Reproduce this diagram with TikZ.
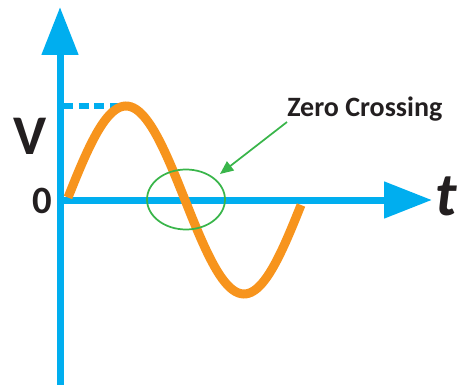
\documentclass[tikz,border=0pt]{standalone}
\usepackage{fontspec}
\setmainfont{Carlito}
\usepackage{tikz}
\usetikzlibrary{
  shapes.geometric,
  arrows.meta,
  positioning
}
\definecolor{axisblue}{RGB}{0, 174, 239}
\definecolor{waveorange}{RGB}{247, 148, 29}
\definecolor{zcgreen}{RGB}{57, 181, 74}
\definecolor{textdark}{RGB}{35, 31, 32}

\begin{document}
\begin{tikzpicture}[
  x=0.75pt, y=-0.75pt,
  axis/.style={draw=axisblue, line width=5.25pt, -{Triangle[length=36pt, width=26.5pt]}},
  peakdash/.style={draw=axisblue, line width=4.5pt, dash pattern=on 7.5pt off 4.2pt},
  wave/.style={draw=waveorange, line width=6.75pt},
  zcring/.style={ellipse, draw=zcgreen, line width=1.3pt, minimum width=58.5pt, minimum height=45pt, inner sep=0pt},
  zcarrow/.style={draw=zcgreen, line width=1.3pt, -{Triangle[length=10pt, width=8.5pt]}},
  label/.style={text=textdark, inner sep=0pt, font=\bfseries\fontsize{#1}{#1}\selectfont}
]
\useasboundingbox (0,0) rectangle (457,385);

% Axes
\coordinate (origin) at (60,200);
\coordinate (vbottom) at (60,386);
\coordinate (vtop) at (60,7);
\coordinate (tend) at (432,200);
\draw[axis] (vbottom) -- (vtop);
\draw[axis] (origin) -- (tend);

% Axis labels
\node[label=42] (vlabel) at (30,136.5) {V};
\node[label=29] (zerolabel) at (42,201) {0};
\node[label=46, font=\bfseries\itshape\fontsize{46}{46}\selectfont] (tlabel) at (446,196) {t};

% Peak marker
\coordinate (vpeak) at (63,106);
\coordinate (peak) at (118,106);
\draw[peakdash] (vpeak) -- (peak);

% Signal
\draw[wave] plot[domain=68:301, samples=90] (\x, {200 - 94*sin((\x-67)*1.5254)});

% Zero crossing mark
\node[zcring] (zc) at (186,199.5) {};
\node[label=21, anchor=base west] (zclabel) at (287,117) {Zero Crossing};
\coordinate (zctip) at (220,174);
\draw[zcarrow] (zclabel.south west) -- (zctip);

\end{tikzpicture}
\end{document}
